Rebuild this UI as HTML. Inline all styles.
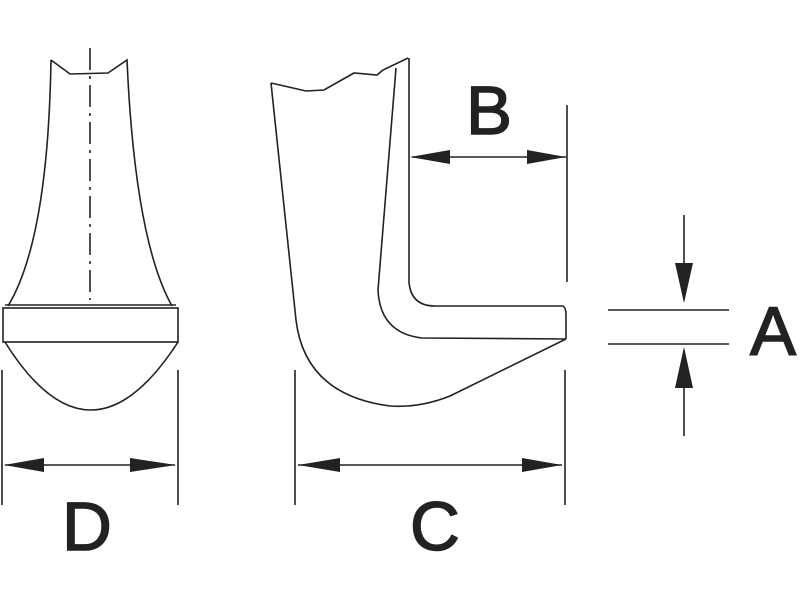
<!DOCTYPE html>
<html><head><style>html,body{margin:0;padding:0;background:#fff;}svg{display:block}</style></head>
<body>
<svg width="800" height="600" viewBox="0 0 800 600" xmlns="http://www.w3.org/2000/svg">
<g fill="none" stroke="#222" stroke-width="1.6">
<!-- left part -->
<path d="M51,60 L70,74 L108,73 L127,60 Q135,240 172,306"/>
<path d="M51,60 Q48,240 8,306"/>
<rect x="3" y="308" width="175" height="34"/>
<line x1="5" y1="305" x2="176" y2="305"/>
<path d="M5,342 Q90,478 178,342"/>
<line x1="90" y1="48" x2="90" y2="300" stroke-dasharray="22,6,3,6"/>
<!-- middle part -->
<path d="M271,83 L306,91 L324,90 L354,73 L377,75 L383,70 L408,58"/>
<path d="M409,58 L409,282 Q411,306 435,306 L562,306 Q566,306 566,316 L566,339"/>
<path d="M271,83 L296,320 Q305,395 390,406 Q420,408 450,396 L566,339"/>
<path d="M396,68 L378,290 Q380,333 422,338 L566,339"/>
<!-- B -->
<line x1="567" y1="105" x2="567" y2="282"/>
<line x1="412" y1="157" x2="566" y2="157"/>
<!-- C,D -->
<line x1="2" y1="370" x2="2" y2="505"/>
<line x1="178" y1="370" x2="178" y2="505"/>
<line x1="5" y1="465" x2="175" y2="465"/>
<line x1="295" y1="370" x2="295" y2="505"/>
<line x1="565" y1="370" x2="565" y2="505"/>
<line x1="298" y1="465" x2="562" y2="465"/>
<!-- A -->
<line x1="608" y1="310" x2="729" y2="310"/>
<line x1="608" y1="344" x2="729" y2="344"/>
<line x1="684" y1="215" x2="684" y2="300"/>
<line x1="684" y1="350" x2="684" y2="436"/>
</g>
<g fill="#222">
<polygon points="410,157 450,150 450,164"/>
<polygon points="566,157 527,150 527,164"/>
<polygon points="4,465 44,458 44,472"/>
<polygon points="176,465 130,458 130,472"/>
<polygon points="298,465 340,458 340,472"/>
<polygon points="562,465 522,458 522,472"/>
<polygon points="684,303 675,263 693,263"/>
<polygon points="684,347 675,388 693,388"/>
</g>
<g font-family="Liberation Sans, sans-serif" font-size="69" fill="#222" stroke="#222" stroke-width="1.5">
<text x="466" y="134">B</text>
<text x="750" y="355">A</text>
<text x="62" y="550">D</text>
<text x="410" y="550">C</text>
</g>
</svg>
</body></html>
